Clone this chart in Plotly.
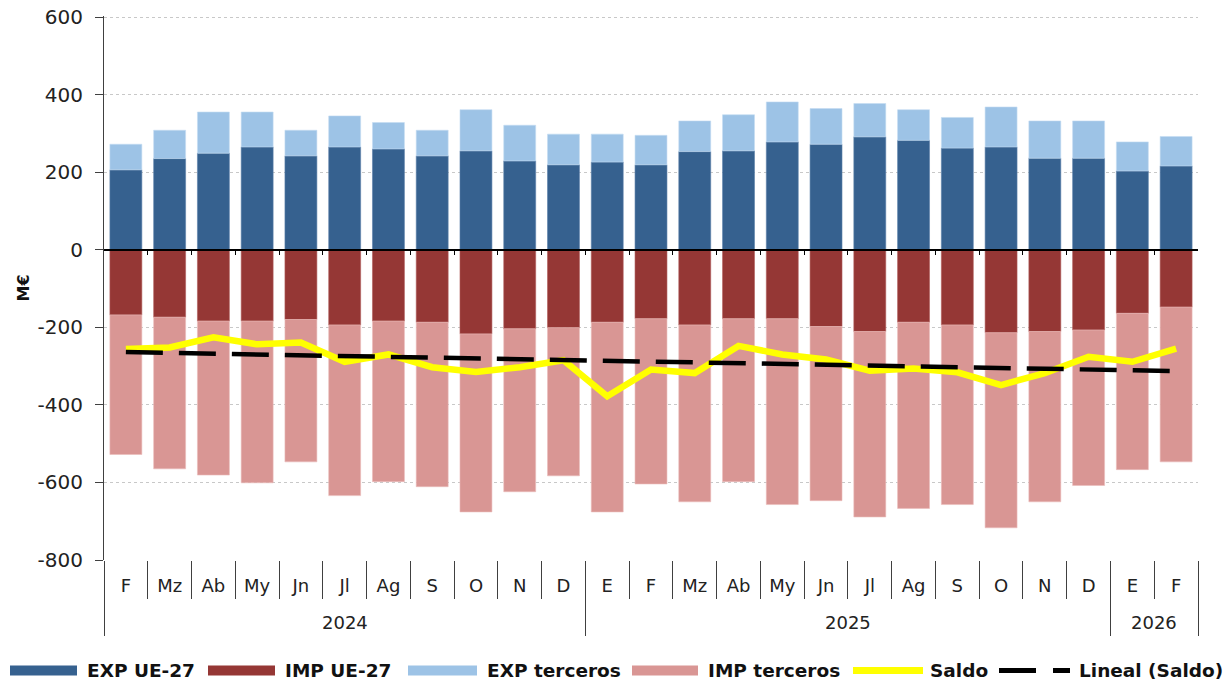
import plotly.graph_objects as go

years = ["2024"] * 11 + ["2025"] * 12 + ["2026"] * 2
months = ["F", "Mz", "Ab", "My", "Jn", "Jl", "Ag", "S", "O", "N", "D",
          "E", "F", "Mz", "Ab", "My", "Jn", "Jl", "Ag", "S", "O", "N", "D",
          "E", "F"]

exp_ue27 = [206, 235, 249, 265, 242, 265, 260, 242, 255, 229, 219,
            226, 219, 253, 255, 278, 272, 291, 282, 262, 265, 236, 236,
            203, 216]
exp_terceros = [66, 73, 106, 90, 66, 80, 68, 66, 106, 92, 79,
                72, 76, 79, 93, 103, 92, 86, 79, 79, 103, 96, 96,
                75, 76]
imp_ue27 = [-168, -174, -184, -184, -180, -194, -184, -187, -217, -204, -201,
            -187, -178, -194, -178, -178, -198, -211, -187, -194, -214, -211, -207,
            -164, -148]
imp_terceros = [-360, -391, -397, -417, -367, -440, -414, -424, -459, -420, -382,
                -489, -426, -456, -420, -479, -449, -478, -480, -463, -503, -439, -401,
                -403, -399]
saldo = [-256, -252, -226, -244, -239, -289, -270, -303, -315, -303, -285,
         -378, -309, -318, -248, -270, -283, -312, -306, -316, -349, -318, -276,
         -289, -255]
# linear trend of Saldo: value at the first and at the last month
lineal_vals = [-264, -313]

y_ticks = [600, 400, 200, 0, -200, -400, -600, -800]
y_ticktext = ["600", "400", "200", "0", "-200", "-400", "-600", "-800"]

series_names = ["EXP UE-27", "IMP UE-27", "EXP terceros", "IMP terceros",
                "Saldo", "Lineal (Saldo)"]

C_EXP_UE = "#36618F"
C_IMP_UE = "#953735"
C_EXP_T = "#9DC3E6"
C_IMP_T = "#D99694"
C_SALDO = "#FFFF00"
C_LIN = "#000000"
AX = "#404040"
FONT = "DejaVu Sans"

n = len(months)
idx = list(range(n))
lineal_x = [idx[0], idx[-1]]

# category boundaries (derived from the category list)
month_bounds = [i - 0.5 for i in range(1, n)]
year_bounds = [-0.5] + [i - 0.5 for i in range(1, n) if years[i] != years[i - 1]] + [n - 0.5]
year_names = []
year_centers = []
for y in dict.fromkeys(years):
    pos = [i for i in idx if years[i] == y]
    year_names.append(y)
    year_centers.append(sum(pos) / len(pos))

fig = go.Figure()
bar_kw = dict(showlegend=False, marker_line_width=0.6)
fig.add_trace(go.Bar(x=idx, y=exp_ue27, name=series_names[0],
                     marker_color=C_EXP_UE, marker_line_color="#5a80aa", **bar_kw))
fig.add_trace(go.Bar(x=idx, y=imp_ue27, name=series_names[1],
                     marker_color=C_IMP_UE, marker_line_color="#b05c5a", **bar_kw))
fig.add_trace(go.Bar(x=idx, y=exp_terceros, name=series_names[2],
                     marker_color=C_EXP_T, marker_line_color="#c4dcf1", **bar_kw))
fig.add_trace(go.Bar(x=idx, y=imp_terceros, name=series_names[3],
                     marker_color=C_IMP_T, marker_line_color="#ebbcbb", **bar_kw))
fig.add_trace(go.Scatter(x=idx, y=saldo, mode="lines", name=series_names[4],
                         line=dict(color=C_SALDO, width=6.5), showlegend=False))
fig.add_trace(go.Scatter(x=lineal_x, y=lineal_vals, mode="lines",
                         name=series_names[5], showlegend=False,
                         line=dict(color=C_LIN, width=4.5, dash="37px,16px")))

# invisible anchors for the helper axes
for ax in ["x2", "x3", "x4"]:
    fig.add_trace(go.Scatter(x=[0], y=[0], xaxis=ax, mode="markers",
                             marker=dict(opacity=0), showlegend=False, hoverinfo="skip"))

ymin, ymax = -800, 602.6
zero_pos = (0 - ymin) / (ymax - ymin)
xr = [-0.5, n - 0.5]

# page geometry: plot area spans x 104..1198, y 16..560
PX0, PW, PY1, PH = 104, 1094, 560, 544


def px(x):
    return (x - PX0) / PW


def py(y):
    return (PY1 - y) / PH


for name, ctr in zip(year_names, year_centers):
    fig.add_annotation(x=ctr, xref="x", y=py(622), yref="paper", text=name,
                       showarrow=False, yanchor="middle",
                       font=dict(size=18, family=FONT, color="#222222"))

# hand-built legend (long keys, Excel-like spacing)
legend_style = [
    (C_EXP_UE, 10, "solid", 10, 77, 85),
    (C_IMP_UE, 10, "solid", 208, 275, 283),
    (C_EXP_T, 10, "solid", 408, 477, 485),
    (C_IMP_T, 10, "solid", 632, 698, 706),
    (C_SALDO, 7, "solid", 853, 923, 928),
    (C_LIN, 5, "37px,17px", 999, 1070, 1077),
]
LEG_Y = 670.5
for name, (col, w, dash, x0, x1, xt) in zip(series_names, legend_style):
    fig.add_shape(type="line", xref="paper", yref="paper",
                  x0=px(x0), x1=px(x1), y0=py(LEG_Y), y1=py(LEG_Y),
                  line=dict(color=col, width=w, dash=dash))
    fig.add_annotation(x=px(xt), xref="paper", y=py(LEG_Y), yref="paper",
                       text="<b>" + name + "</b>", showarrow=False,
                       xanchor="left", yanchor="middle",
                       font=dict(size=18.5, family=FONT, color="#111111"))

fig.update_layout(
    barmode="relative",
    bargap=0.27,
    width=1229, height=684,
    margin=dict(l=104, r=31, t=16, b=124),
    plot_bgcolor="white", paper_bgcolor="white",
    font=dict(family=FONT, color="#222222", size=17),
    showlegend=False,
    xaxis=dict(range=xr, tickvals=idx, ticktext=months, ticks="", showgrid=False,
               showline=False, zeroline=False, ticklabelstandoff=13,
               tickfont=dict(size=18, family=FONT, color="#222222"), automargin=False),
    xaxis2=dict(overlaying="x", anchor="free", position=zero_pos, range=xr,
                tickvals=month_bounds, showticklabels=False, ticks="outside", ticklen=5,
                tickcolor="#000000", showline=True, linecolor="#000000", linewidth=1.5,
                showgrid=False, zeroline=False, automargin=False),
    xaxis3=dict(overlaying="x", anchor="y", range=xr, tickvals=month_bounds,
                showticklabels=False, ticks="outside", ticklen=38, tickcolor=AX,
                tickwidth=1, showline=False, showgrid=False, zeroline=False,
                automargin=False),
    xaxis4=dict(overlaying="x", anchor="y", range=xr, tickvals=year_bounds,
                showticklabels=False, ticks="outside", ticklen=75, tickcolor=AX,
                tickwidth=1, showline=False, showgrid=False, zeroline=False,
                automargin=False),
    yaxis=dict(range=[ymin, ymax], tickvals=y_ticks, ticktext=y_ticktext,
               showgrid=True, gridcolor="#c8c8c8", griddash="dot", gridwidth=1,
               zeroline=False, showline=True, linecolor=AX, linewidth=1,
               ticks="outside", ticklen=8, tickcolor=AX, ticklabelstandoff=8,
               ticklabeloverflow="allow",
               tickfont=dict(size=20, family=FONT, color="#222222"),
               title=dict(text="<b>M€</b>", font=dict(size=16, family=FONT, color="#111111"),
                          standoff=4),
               automargin=False),
)

fig.write_html("out.html", config={"displayModeBar": False},
               post_script="document.body.style.margin='0';")
